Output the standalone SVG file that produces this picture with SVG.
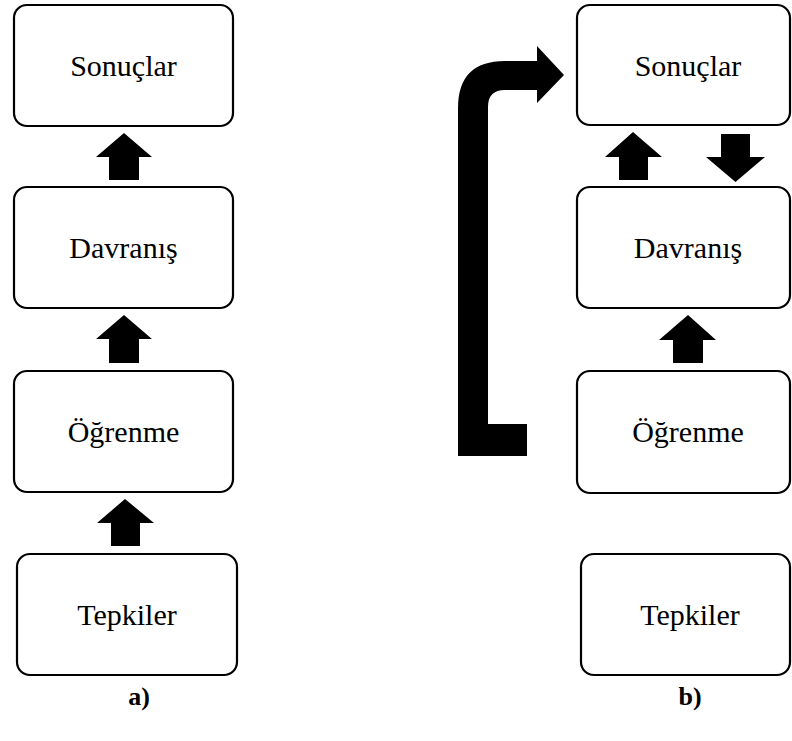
<svg xmlns="http://www.w3.org/2000/svg" width="792" height="741" viewBox="0 0 792 741">
<style>
.box{fill:#fff;stroke:#000;stroke-width:2.2}
.t{font-family:'Liberation Serif','Times New Roman',serif;font-size:30px;text-anchor:middle;fill:#000}
.lbl{font-family:'Liberation Serif','Times New Roman',serif;font-size:26px;font-weight:bold;text-anchor:middle;fill:#000}
.ar{fill:#000}
</style>
<rect width="792" height="741" fill="#fff"/>
<g id="a-sonuclar"><rect class="box" x="14" y="5" width="219" height="121" rx="13"/><text class="t" x="123.5" y="76">Sonuçlar</text></g>
<g id="a-davranis"><rect class="box" x="14" y="187" width="219" height="121" rx="13"/><text class="t" x="123.5" y="258">Davranış</text></g>
<g id="a-ogrenme"><rect class="box" x="14" y="371" width="219" height="121" rx="13"/><text class="t" x="123.5" y="442">Öğrenme</text></g>
<g id="a-tepkiler"><rect class="box" x="17" y="554" width="220" height="121" rx="13"/><text class="t" x="127" y="625">Tepkiler</text></g>
<g id="b-sonuclar"><rect class="box" x="577" y="5" width="213" height="120" rx="13"/><text class="t" x="688" y="76">Sonuçlar</text></g>
<g id="b-davranis"><rect class="box" x="577" y="187" width="213" height="121" rx="13"/><text class="t" x="688" y="258">Davranış</text></g>
<g id="b-ogrenme"><rect class="box" x="577" y="371" width="213" height="122" rx="13"/><text class="t" x="688" y="442">Öğrenme</text></g>
<g id="b-tepkiler"><rect class="box" x="581" y="554" width="209" height="121" rx="13"/><text class="t" x="690" y="625">Tepkiler</text></g>
<g id="connectors">
<polygon class="ar" points="124,133 152,157 139,157 139,180 109,180 109,157 96,157"/>
<polygon class="ar" points="124,315 152,339 139,339 139,363 109,363 109,339 96,339"/>
<polygon class="ar" points="125,499 154,523 140,523 140,546 111,546 111,523 97,523"/>
<polygon class="ar" points="633,132 662,157 648,157 648,180 619,180 619,157 605,157"/>
<polygon class="ar" points="721,134 750,134 750,157 765,157 735.5,182 706,157 721,157"/>
<polygon class="ar" points="688,315 716,340 703,340 703,363 673,363 673,340 659,340"/>
<path class="ar" d="M458,456 L527,456 L527,424 L488,424 L488,107 Q488,90 505,90 L537,90 L537,103 L564,75 L537,46 L537,61 L505,61 Q458,61 458,108 Z"/>
</g>
<text class="lbl" x="139" y="705">a)</text>
<text class="lbl" x="690" y="705">b)</text>
</svg>
